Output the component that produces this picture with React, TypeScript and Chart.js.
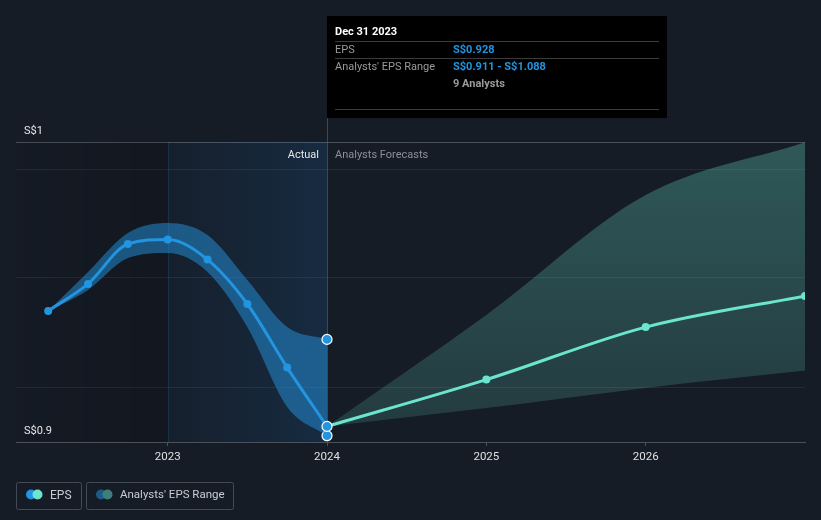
import React, { useEffect, useRef } from "react";
import { Chart, registerables } from "chart.js";

Chart.register(...registerables);

// ---- Data ----
const actualYears = [2022.25, 2022.5, 2022.75, 2023.0, 2023.25, 2023.5, 2023.75, 2024.0];
const epsActual = [0.9437, 0.9527, 0.966, 0.9675, 0.9608, 0.946, 0.9248, 0.9052];
const actualRangeHigh = [0.9437, 0.9567, 0.9697, 0.973, 0.969, 0.954, 0.9383, 0.9342];
const actualRangeLow = [0.9437, 0.9507, 0.9613, 0.963, 0.9567, 0.9383, 0.9117, 0.9021];

const forecastYears = [2024, 2025, 2026, 2027];
const epsForecast = [0.9052, 0.9208, 0.9383, 0.9487];
const forecastHigh = [0.9052, 0.9423, 0.9823, 0.9999];
const forecastLow = [0.9052, 0.9113, 0.918, 0.9238];

const xTickYears = [2023, 2024, 2025, 2026];
const yGridValues = [0.9183, 0.9547, 0.991, 1.0];
const yLabelValues = [1.0, 0.9];
const yLabelTexts = ["S$1", "S$0.9"];

const actualStart = 2023;
const todayX = 2024;

const tooltipTitle = "Dec 31 2023";
const tooltipLabels = ["EPS", "Analysts' EPS Range", ""];
const tooltipValues = ["S$0.928", "S$0.911 - S$1.088", "9 Analysts"];

const legendLabels = ["EPS", "Analysts' EPS Range"];

// ---- Styles ----
const BG = "#161c26";
const BLUE = "#2394df";
const TEAL = "#6ce5cf";
const FONT = "Roboto, 'Open Sans', sans-serif";
const FS = 11;

const toPts = (xs: number[], ys: number[]) => xs.map((x, i) => ({ x, y: ys[i] }));

const decorPlugin = {
  id: "decor",
  beforeDatasetsDraw(chart: any) {
    const { ctx, chartArea: a, scales } = chart;
    const xs = scales.x;
    const x0 = a.left;
    const x1 = xs.getPixelForValue(actualStart);
    const x2 = xs.getPixelForValue(todayX);
    ctx.save();
    let g = ctx.createLinearGradient(x0, 0, x1, 0);
    g.addColorStop(0, "rgba(0,0,0,0.04)");
    g.addColorStop(1, "rgba(0,0,0,0.16)");
    ctx.fillStyle = g;
    ctx.fillRect(x0, a.top, x1 - x0, a.bottom - a.top);
    g = ctx.createLinearGradient(x1, 0, x2, 0);
    g.addColorStop(0, "rgba(30,120,200,0.04)");
    g.addColorStop(1, "rgba(30,120,200,0.17)");
    ctx.fillStyle = g;
    ctx.fillRect(x1, a.top, x2 - x1, a.bottom - a.top);
    ctx.fillStyle = "rgba(35,148,223,0.16)";
    ctx.fillRect(Math.round(x1), a.top, 1, a.bottom - a.top);
    ctx.fillStyle = "rgba(50,120,170,0.55)";
    ctx.fillRect(Math.round(x2), 118, 1, a.bottom - 118);
    ctx.restore();
  },
  afterDraw(chart: any) {
    const { ctx, chartArea: a, scales } = chart;
    const xs = scales.x;
    const ys = scales.y;
    const x2 = Math.round(xs.getPixelForValue(todayX));
    ctx.save();
    ctx.textBaseline = "middle";
    ctx.font = `${FS}px ${FONT}`;
    ctx.fillStyle = "#e6e6e6";
    ctx.textAlign = "left";
    yLabelValues.forEach((v, i) => {
      ctx.fillText(yLabelTexts[i], a.left + 8, ys.getPixelForValue(v) - 10.5);
    });
    ctx.textAlign = "right";
    ctx.fillStyle = "#e6e6e6";
    ctx.fillText("Actual", x2 - 8, a.top + 13);
    ctx.textAlign = "left";
    ctx.fillStyle = "#8b9099";
    ctx.fillText("Analysts Forecasts", x2 + 8, a.top + 13);

    // tooltip box
    const bx = x2;
    const by = 16;
    const bw = 340;
    const bh = 102;
    ctx.fillStyle = "#000";
    ctx.fillRect(bx, by, bw, bh);
    ctx.fillStyle = "#3c3c3c";
    [41, 58, 109].forEach((ly) => ctx.fillRect(bx + 8, ly, bw - 16, 1));
    ctx.font = `bold ${FS}px ${FONT}`;
    ctx.fillStyle = "#ffffff";
    ctx.fillText(tooltipTitle, bx + 8, 32);
    const rowsY = [50, 67, 84];
    tooltipLabels.forEach((l, i) => {
      ctx.font = `${FS}px ${FONT}`;
      ctx.fillStyle = "#9a9a9a";
      if (l) ctx.fillText(l, bx + 8, rowsY[i]);
      ctx.font = `bold ${FS}px ${FONT}`;
      ctx.fillStyle = i < 2 ? BLUE : "#9a9a9a";
      ctx.fillText(tooltipValues[i], bx + 126, rowsY[i]);
    });

    // legend
    const boxes = [
      { x: 16.5, w: 65, c1: BLUE, c2: TEAL },
      { x: 86.5, w: 147, c1: "#1d5a8a", c2: "#3d7f7a" },
    ];
    ctx.font = `${FS + 1}px ${FONT}`;
    boxes.forEach((b, i) => {
      ctx.strokeStyle = "#454b55";
      ctx.lineWidth = 1;
      ctx.beginPath();
      (ctx as any).roundRect(b.x, 482.5, b.w, 27, 2);
      ctx.stroke();
      ctx.fillStyle = b.c1;
      ctx.beginPath();
      ctx.arc(b.x + 14.5, 494.5, 5, 0, Math.PI * 2);
      ctx.fill();
      ctx.fillStyle = b.c2;
      ctx.beginPath();
      ctx.arc(b.x + 21, 494.5, 5, 0, Math.PI * 2);
      ctx.fill();
      ctx.fillStyle = "#c8ccd2";
      ctx.textAlign = "left";
      ctx.font = `${i === 0 ? FS + 1 : FS + 0.5}px ${FONT}`;
      ctx.fillText(legendLabels[i], b.x + 33.5, 495.5);
    });
    ctx.restore();
  },
};

export default function App() {
  const ref = useRef<HTMLCanvasElement>(null);
  useEffect(() => {
    if (!ref.current) return;
    Chart.defaults.font.family = FONT;
    const lastA = actualYears.length - 1;
    const forecastFill = (ctx: any) => {
      const area = ctx.chart.chartArea;
      if (!area) return "rgba(108,229,207,0.25)";
      const g = ctx.chart.ctx.createLinearGradient(0, area.top, 0, area.bottom);
      g.addColorStop(0, "rgba(108,229,207,0.30)");
      g.addColorStop(1, "rgba(108,229,207,0.15)");
      return g;
    };
    const chart = new Chart(ref.current, {
      type: "line",
      data: {
        datasets: [
          {
            label: "EPS",
            data: toPts(actualYears, epsActual),
            borderColor: BLUE,
            borderWidth: 3,
            cubicInterpolationMode: "monotone",
            pointRadius: actualYears.map((_, i) => (i === lastA ? 5 : 4)),
            pointBorderWidth: actualYears.map((_, i) => (i === lastA ? 1.2 : 0)),
            pointBorderColor: "#ffffff",
            pointBackgroundColor: BLUE,
            fill: false,
          },
          {
            label: "EPS forecast",
            data: toPts(forecastYears, epsForecast),
            borderColor: TEAL,
            borderWidth: 3,
            cubicInterpolationMode: "monotone",
            pointRadius: forecastYears.map((_, i) => (i === 0 ? 0 : 4)),
            pointBorderWidth: 0,
            pointBackgroundColor: TEAL,
            fill: false,
          },
          {
            label: "Range high",
            data: toPts(actualYears, actualRangeHigh),
            borderWidth: 0,
            borderColor: "rgba(0,0,0,0)",
            cubicInterpolationMode: "monotone",
            pointRadius: actualYears.map((_, i) => (i === lastA ? 5 : 0)),
            pointBorderWidth: 1.2,
            pointBorderColor: "#ffffff",
            pointBackgroundColor: BLUE,
            backgroundColor: "rgba(35,148,223,0.5)",
            fill: "+1",
          },
          {
            label: "Range low",
            data: toPts(actualYears, actualRangeLow),
            borderWidth: 0,
            borderColor: "rgba(0,0,0,0)",
            cubicInterpolationMode: "monotone",
            pointRadius: actualYears.map((_, i) => (i === lastA ? 5 : 0)),
            pointBorderWidth: 1.2,
            pointBorderColor: "#ffffff",
            pointBackgroundColor: BLUE,
            fill: false,
          },
          {
            label: "Forecast high",
            data: toPts(forecastYears, forecastHigh),
            borderWidth: 0,
            borderColor: "rgba(0,0,0,0)",
            cubicInterpolationMode: "monotone",
            pointRadius: 0,
            backgroundColor: forecastFill,
            fill: "+1",
          },
          {
            label: "Forecast low",
            data: toPts(forecastYears, forecastLow),
            borderWidth: 0,
            borderColor: "rgba(0,0,0,0)",
            cubicInterpolationMode: "monotone",
            pointRadius: 0,
            fill: false,
          },
        ],
      },
      options: {
        responsive: false,
        animation: false,
        devicePixelRatio: 1,
        layout: { padding: { left: 16, right: 16, top: 142, bottom: 0 } },
        plugins: { legend: { display: false }, tooltip: { enabled: false } },
        events: [],
        scales: {
          x: {
            type: "linear",
            min: 2022.048,
            max: 2027.0,
            afterBuildTicks: (s: any) => {
              s.ticks = xTickYears.map((v) => ({ value: v }));
            },
            afterFit: (s: any) => {
              s.height = 78;
            },
            ticks: {
              color: "#e0e0e0",
              font: { size: FS + 0.5, family: FONT },
              padding: 4,
              maxRotation: 0,
              autoSkip: false,
              callback: (v: any) => String(v),
            },
            grid: { drawOnChartArea: false, drawTicks: true, tickLength: 4, color: "#4b515b" },
            border: { display: true, color: "#4b515b" },
          },
          y: {
            type: "linear",
            min: 0.9,
            max: 1.0,
            afterBuildTicks: (s: any) => {
              s.ticks = yGridValues.map((v) => ({ value: v }));
            },
            afterFit: (s: any) => {
              s.width = 0;
            },
            ticks: { display: false },
            grid: {
              drawTicks: false,
              color: (c: any) => (c.tick && c.tick.value === 1.0 ? "#4b515b" : "rgba(255,255,255,0.07)"),
            },
            border: { display: false },
          },
        },
      },
      plugins: [decorPlugin],
    });
    return () => chart.destroy();
  }, []);
  return (
    <div style={{ position: "fixed", left: 0, top: 0, width: 821, height: 520, background: BG }}>
      <canvas ref={ref} width={821} height={520} style={{ display: "block" }} />
    </div>
  );
}
